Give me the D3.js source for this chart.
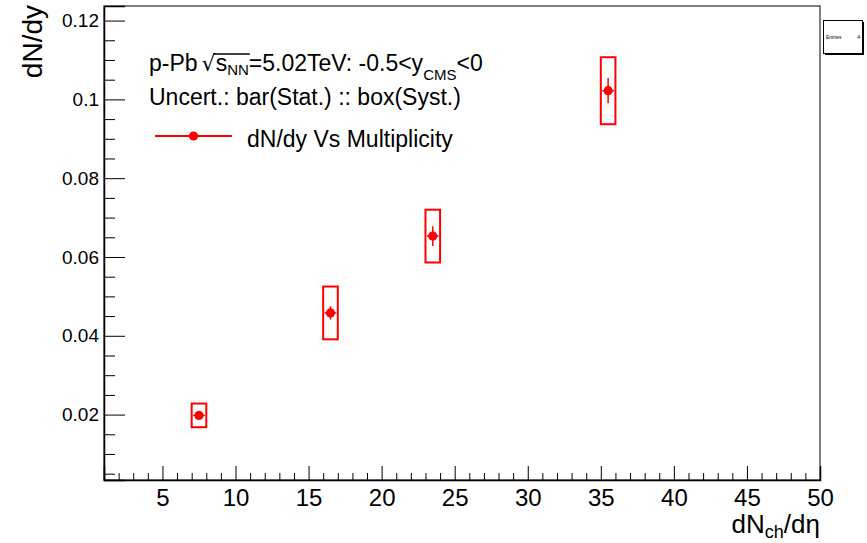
<!DOCTYPE html>
<html>
<head>
<meta charset="utf-8">
<script src="https://cdn.jsdelivr.net/npm/d3@7"></script>
<style>
  html, body { margin: 0; padding: 0; background: #fff; }
  svg { display: block; }
  text { font-family: "Liberation Sans", Arial, Helvetica, sans-serif; fill: #000; white-space: pre; }
</style>
</head>
<body>
<svg id="chart" width="867" height="543"></svg>
<script>
// Charged-particle multiplicity bins (dNch/deta)
const multiplicity = [7.5, 16.5, 23.5, 35.5];
// Yield dN/dy per bin
const dNdy = [0.0198, 0.0458, 0.0653, 0.1022];
// Statistical uncertainty (error bars)
const statErr = [0.0009, 0.0017, 0.0025, 0.0032];
// Systematic uncertainty (boxes)
const systErr = [0.0030, 0.0067, 0.0067, 0.0085];
// Horizontal extent of the error bars and the boxes
const xErrBar = [0.4, 0.4, 0.4, 0.4];
const xErrBox = [0.5, 0.5, 0.5, 0.5];

const xMajorTicks = [5, 10, 15, 20, 25, 30, 35, 40, 45, 50];
const yMajorTicks = [0.02, 0.04, 0.06, 0.08, 0.1, 0.12];
const yTickLabels = ["0.02", "0.04", "0.06", "0.08", "0.1", "0.12"];

const svg = d3.select("#chart");
const frame = { left: 104, right: 820, top: 6, bottom: 480 };

const x = d3.scaleLinear().domain([1, 50]).range([frame.left, frame.right]);
const y = d3.scaleLinear().domain([0.0034, 0.1237]).range([frame.bottom, frame.top]);

const red = "#ff0000";
const sans = '"Liberation Sans", Arial, sans-serif';

// frame
svg.append("rect")
  .attr("x", frame.left).attr("y", frame.top)
  .attr("width", frame.right - frame.left).attr("height", frame.bottom - frame.top)
  .attr("fill", "none").attr("stroke", "#000").attr("stroke-width", 1);

// x axis: ticks pointing into the frame
const xMinor = d3.range(2, 51).filter(v => v % 5 !== 0);
svg.append("g").attr("transform", `translate(0,${frame.bottom})`)
  .call(d3.axisBottom(x).tickValues(xMinor).tickSize(-7).tickFormat(""))
  .call(g => g.select(".domain").remove());
const gx = svg.append("g").attr("transform", `translate(0,${frame.bottom})`)
  .call(d3.axisBottom(x).tickValues(xMajorTicks).tickSize(-14).tickPadding(0).tickFormat(d3.format("d")));
gx.select(".domain").attr("stroke", "#000").attr("stroke-width", 1.5);
gx.selectAll("text").attr("y", 9).attr("font-size", 24).attr("fill", "#000")
  .style("font-family", sans);

// y axis
const yMinor = d3.range(1, 25).map(i => i * 0.005)
  .filter(v => v >= y.domain()[0] && v <= y.domain()[1] && Math.abs((v / 0.02) - Math.round(v / 0.02)) > 1e-6);
svg.append("g").attr("transform", `translate(${frame.left},0)`)
  .call(d3.axisLeft(y).tickValues(yMinor).tickSize(-11).tickFormat(""))
  .call(g => g.select(".domain").remove());
const gy = svg.append("g").attr("transform", `translate(${frame.left},0)`)
  .call(d3.axisLeft(y).tickValues(yMajorTicks).tickSize(-21).tickPadding(0)
    .tickFormat((d, i) => yTickLabels[i]));
gy.select(".domain").attr("stroke", "#000").attr("stroke-width", 1.5);
gy.selectAll("text").attr("x", -5).attr("font-size", 19).attr("fill", "#000")
  .style("font-family", sans);
svg.selectAll(".tick line").attr("stroke", "#000");

// axis titles
svg.append("text")
  .attr("transform", `translate(42,${frame.top - 1}) rotate(-90)`)
  .attr("text-anchor", "end").attr("font-size", 28).text("dN/dy");

const xt = svg.append("text").attr("x", frame.right).attr("y", 533)
  .attr("text-anchor", "end").attr("font-size", 26);
xt.append("tspan").text("dN");
xt.append("tspan").attr("font-size", 18).attr("dy", 5).text("ch");
xt.append("tspan").attr("dy", -5).text("/d\u03b7");

// systematic boxes
const pts = multiplicity.map((m, i) => ({ m, v: dNdy[i], s: statErr[i], sy: systErr[i], ex: xErrBar[i], bx: xErrBox[i] }));
svg.append("g").selectAll("rect").data(pts).join("rect")
  .attr("x", d => x(d.m - d.bx)).attr("width", d => x(d.m + d.bx) - x(d.m - d.bx))
  .attr("y", d => y(d.v + d.sy)).attr("height", d => y(d.v - d.sy) - y(d.v + d.sy))
  .attr("fill", "none").attr("stroke", red).attr("stroke-width", 2);

// statistical error bars
const eb = svg.append("g").attr("stroke", red).attr("stroke-width", 1.5);
eb.selectAll("line.v").data(pts).join("line").attr("class", "v")
  .attr("x1", d => x(d.m)).attr("x2", d => x(d.m))
  .attr("y1", d => y(d.v + d.s)).attr("y2", d => y(d.v - d.s));
eb.selectAll("line.h").data(pts).join("line").attr("class", "h")
  .attr("x1", d => x(d.m - d.ex)).attr("x2", d => x(d.m + d.ex))
  .attr("y1", d => y(d.v)).attr("y2", d => y(d.v));

// markers
svg.append("g").selectAll("circle").data(pts).join("circle")
  .attr("cx", d => x(d.m)).attr("cy", d => y(d.v)).attr("r", 4.6).attr("fill", red);

// header text laid out piece by piece, with a radical over s_NN
function runText(x0, base, segs) {
  let cx = x0;
  const out = [];
  segs.forEach(s => {
    const t = svg.append("text").attr("x", cx).attr("y", base + (s.dy || 0))
      .attr("font-size", s.size).text(s.t);
    if (s.family) t.style("font-family", s.family);
    const w = t.node().getComputedTextLength();
    out.push({ x: cx, w });
    cx += w + (s.gap || 0);
  });
  return out;
}
const line1 = runText(149, 71, [
  { t: "p-Pb", size: 23, gap: 4 },
  { t: "\u221a", size: 22, family: '"DejaVu Sans", sans-serif', gap: 0 },
  { t: "s", size: 23 },
  { t: "NN", size: 15, dy: 4 },
  { t: "=5.02TeV: -0.5<y", size: 23 },
  { t: "CMS", size: 15, dy: 9 },
  { t: "<0", size: 23 }
]);
// overline of the radical
svg.append("line")
  .attr("x1", line1[1].x + line1[1].w - 2).attr("x2", line1[3].x + line1[3].w + 1)
  .attr("y1", 54).attr("y2", 54).attr("stroke", "#000").attr("stroke-width", 1.3);

svg.append("text").attr("x", 149).attr("y", 105).attr("font-size", 23)
  .text("Uncert.: bar(Stat.) :: box(Syst.)");

// legend entry
svg.append("line").attr("x1", 155).attr("x2", 232).attr("y1", 136).attr("y2", 136)
  .attr("stroke", red).attr("stroke-width", 2);
svg.append("circle").attr("cx", 193.5).attr("cy", 136).attr("r", 4.6).attr("fill", red);
svg.append("text").attr("x", 247).attr("y", 147).attr("font-size", 23)
  .text("dN/dy Vs Multiplicity");

// statistics box
const sb = svg.append("g");
sb.append("rect").attr("x", 825).attr("y", 22).attr("width", 39).attr("height", 33).attr("fill", "#000");
sb.append("rect").attr("x", 823.5).attr("y", 20.5).attr("width", 39).attr("height", 33)
  .attr("fill", "#fff").attr("stroke", "#000").attr("stroke-width", 1);
sb.append("text").attr("x", 826).attr("y", 39).attr("font-size", 5).text("Entries");
sb.append("text").attr("x", 860).attr("y", 39).attr("font-size", 5).attr("text-anchor", "end").text("4");
</script>
</body>
</html>
